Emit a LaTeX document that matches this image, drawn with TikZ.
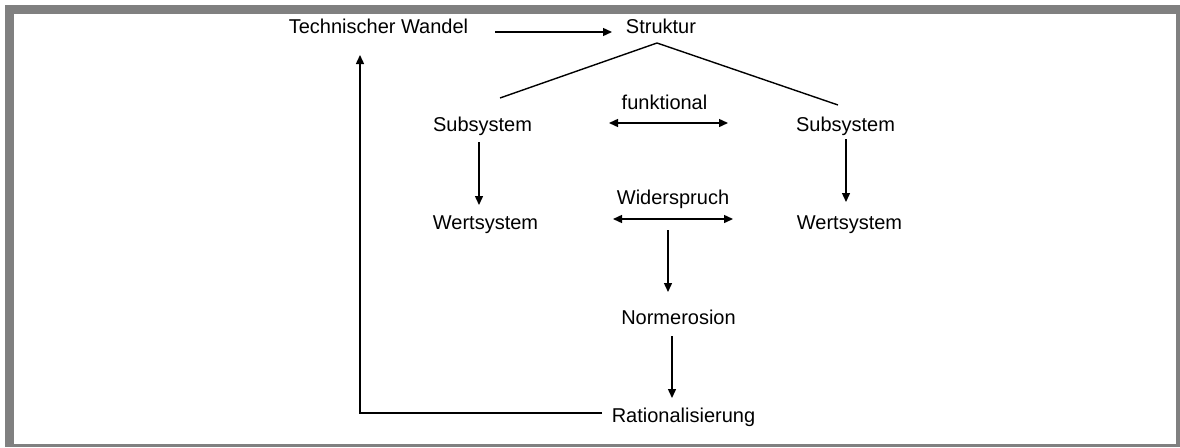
\documentclass[tikz,border=0pt]{standalone}
\usepackage{fontspec}
\setmainfont{Liberation Sans}
\usetikzlibrary{arrows.meta}
\definecolor{framegray}{RGB}{128,128,128}
\tikzset{
  lbl/.style={anchor=base, inner sep=0pt, font=\fontsize{20}{24}\selectfont},
  conn/.style={line width=1.4pt, -{Triangle[length=9pt,width=8pt]}},
  biconn/.style={line width=1.4pt, {Triangle[length=9pt,width=8pt]}-{Triangle[length=9pt,width=8pt]}},
  plain/.style={line width=1.4pt}
}
\begin{document}
\begin{tikzpicture}[x=1pt,y=-1pt]
\useasboundingbox (0,0) rectangle (1180,447);
\fill[white] (0,0) rectangle (1180,447);
\fill[framegray] (5,5) rectangle (1180,447);
\fill[white] (14,14) rectangle (1176,444);

% texts
\node[lbl] (tw) at (378.5,33) {Technischer Wandel};
\node[lbl] (st) at (661,33) {Struktur};
\node[lbl] (fu) at (664.5,109) {funktional};
\node[lbl] (sl) at (482.5,131.5) {Subsystem};
\node[lbl] (sr) at (845.5,131.5) {Subsystem};
\node[lbl] (wl) at (485.5,229.5) {Wertsystem};
\node[lbl] (wr) at (849.5,229.5) {Wertsystem};
\node[lbl] (wi) at (673,204.5) {Widerspruch};
\node[lbl] (no) at (678.5,324.5) {Normerosion};
\node[lbl] (ra) at (683.5,422.5) {Rationalisierung};

% connector end points
\coordinate (twE) at (495,32);
\coordinate (stW) at (612,32);
\coordinate (apex) at (657,43);
\coordinate (slT) at (500,98);
\coordinate (srT) at (838,105);
\coordinate (slB) at (479,142);
\coordinate (wlT) at (479,205);
\coordinate (srB) at (846,139);
\coordinate (wrT) at (846,202);
\coordinate (fuL) at (609,123);
\coordinate (fuR) at (728,123);
\coordinate (wiL) at (613,219);
\coordinate (wiR) at (733,219);
\coordinate (wiB) at (668,230);
\coordinate (noT) at (668,292);
\coordinate (noB) at (672,336);
\coordinate (raT) at (672,398);
\coordinate (raW) at (602,413);
\coordinate (corner) at (360,413);
\coordinate (twS) at (360,55);

% connectors
\draw[conn] (twE) -- (stW);
\draw[plain] (slT) -- (apex) -- (srT);
\draw[conn] (slB) -- (wlT);
\draw[conn] (srB) -- (wrT);
\draw[biconn] (fuL) -- (fuR);
\draw[biconn] (wiL) -- (wiR);
\draw[conn] (wiB) -- (noT);
\draw[conn] (noB) -- (raT);
\draw[conn] (raW) -- (corner) -- (twS);
\end{tikzpicture}
\end{document}
